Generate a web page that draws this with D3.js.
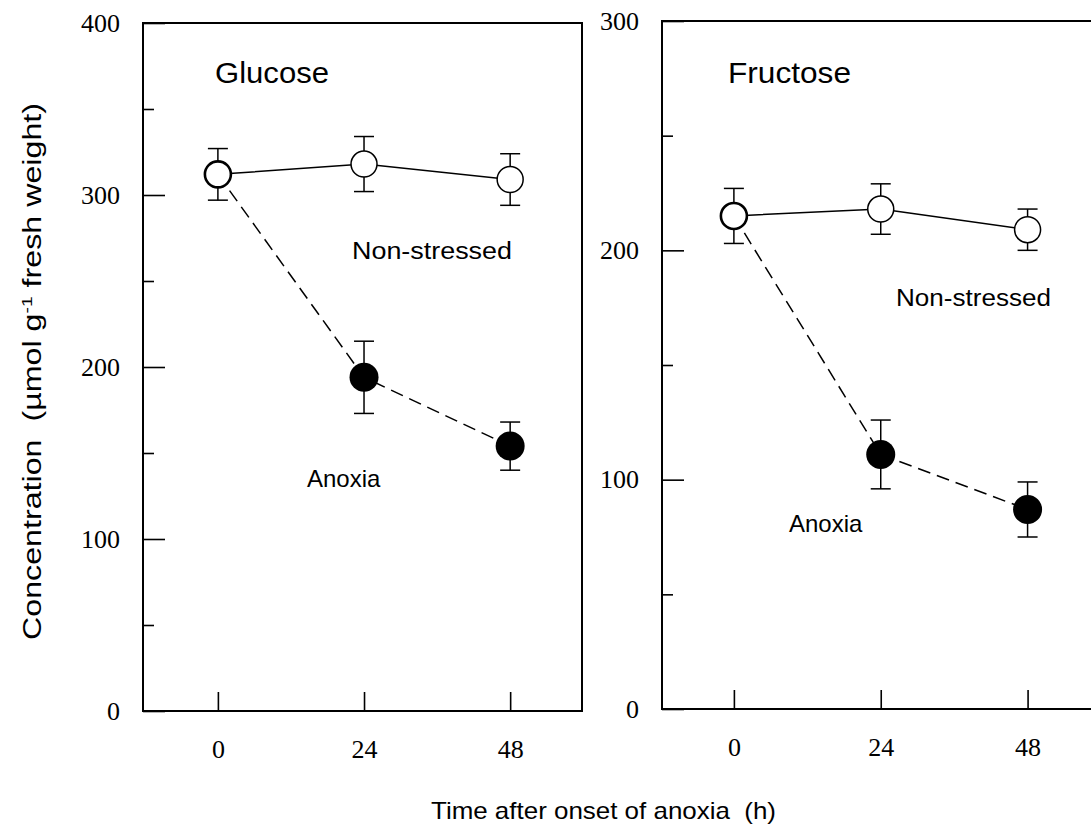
<!DOCTYPE html>
<html>
<head>
<meta charset="utf-8">
<script src="https://cdn.jsdelivr.net/npm/d3@7"></script>
<style>
  body { margin: 0; background: #fff; }
</style>
</head>
<body>
<svg width="1091" height="832"></svg>
<script>
  // Sampling times (h after onset of anoxia)
  const hours = [0, 24, 48];

  // Glucose, umol g-1 fresh weight (mean and error)
  const glucoseControl = [312, 318, 309];
  const glucoseControlErr = [15, 16, 15];
  const glucoseAnoxia = [312, 194, 154];
  const glucoseAnoxiaErr = [15, 21, 14];

  // Fructose
  const fructoseControl = [215, 218, 209];
  const fructoseControlErr = [12, 11, 9];
  const fructoseAnoxia = [215, 111, 87];
  const fructoseAnoxiaErr = [12, 15, 12];

  const glucoseMajor = [0, 100, 200, 300, 400];
  const glucoseMinor = [50, 150, 250, 350];
  const fructoseMajor = [0, 100, 200, 300];
  const fructoseMinor = [50, 150, 250];

  const svg = d3.select('svg');
  const serif = '"Liberation Serif", "Times New Roman", serif';
  const sans = '"Liberation Sans", Arial, sans-serif';

  const pts = (vals, errs) => hours.map((t, i) => ({ t: t, v: vals[i], e: errs[i] }));

  // panel layout
  const panels = [
    { name: 'Glucose', left: 143, top: 23, w: 439, h: 688, xDom: [-12.3, 59.8], yMax: 400,
      major: glucoseMajor, minor: glucoseMinor,
      control: pts(glucoseControl, glucoseControlErr), anoxia: pts(glucoseAnoxia, glucoseAnoxiaErr),
      title: [72, 60, 114], ns: [209, 236, 160], an: [164, 464] },
    { name: 'Fructose', left: 662, top: 21, w: 439, h: 688, xDom: [-11.75, 60], yMax: 300,
      major: fructoseMajor, minor: fructoseMinor,
      control: pts(fructoseControl, fructoseControlErr), anoxia: pts(fructoseAnoxia, fructoseAnoxiaErr),
      title: [66, 62, 123], ns: [234, 285, 155], an: [127, 511] }
  ];

  panels.forEach(function(p) {
    const g = svg.append('g').attr('transform', `translate(${p.left},${p.top})`);
    const x = d3.scaleLinear().domain(p.xDom).range([0, p.w]);
    const y = d3.scaleLinear().domain([0, p.yMax]).range([p.h, 0]);

    // frame
    g.append('rect')
      .attr('width', p.w).attr('height', p.h)
      .attr('fill', 'none').attr('stroke', '#000').attr('stroke-width', 2);

    // y axis, major + minor ticks pointing inward
    const ya = g.append('g')
      .call(d3.axisLeft(y).tickValues(p.major).tickSize(-22).tickPadding(23).tickFormat(d3.format('d')));
    ya.select('.domain').remove();
    g.append('g')
      .call(d3.axisLeft(y).tickValues(p.minor).tickSize(-11).tickFormat(''))
      .select('.domain').remove();

    // x axis
    const xa = g.append('g').attr('transform', `translate(0,${p.h})`)
      .call(d3.axisBottom(x).tickValues(hours).tickSize(-19).tickPadding(29));
    xa.select('.domain').remove();

    g.selectAll('.tick line').attr('stroke', '#000').attr('stroke-width', 1.6);
    g.selectAll('.tick text').attr('font-family', serif).attr('font-size', 26).attr('fill', '#000');

    const line = d3.line().x(d => x(d.t)).y(d => y(d.v));

    g.append('path').datum(p.anoxia).attr('d', line)
      .attr('fill', 'none').attr('stroke', '#000').attr('stroke-width', 1.5)
      .attr('stroke-dasharray', '13,7');
    g.append('path').datum(p.control).attr('d', line)
      .attr('fill', 'none').attr('stroke', '#000').attr('stroke-width', 1.5);

    // error bars
    const bars = p.control.concat(p.anoxia.slice(1));
    const eb = g.append('g').attr('stroke', '#000').attr('stroke-width', 1.5);
    bars.forEach(function(d) {
      eb.append('line').attr('x1', x(d.t)).attr('x2', x(d.t)).attr('y1', y(d.v + d.e)).attr('y2', y(d.v - d.e));
      eb.append('line').attr('x1', x(d.t) - 10).attr('x2', x(d.t) + 10).attr('y1', y(d.v + d.e)).attr('y2', y(d.v + d.e));
      eb.append('line').attr('x1', x(d.t) - 10).attr('x2', x(d.t) + 10).attr('y1', y(d.v - d.e)).attr('y2', y(d.v - d.e));
    });

    // markers
    g.selectAll('circle.an').data(p.anoxia.slice(1)).join('circle')
      .attr('class', 'an')
      .attr('cx', d => x(d.t)).attr('cy', d => y(d.v)).attr('r', 14.5)
      .attr('fill', '#000');
    g.selectAll('circle.ns').data(p.control).join('circle')
      .attr('class', 'ns')
      .attr('cx', d => x(d.t)).attr('cy', d => y(d.v)).attr('r', 13)
      .attr('fill', '#fff').attr('stroke', '#000')
      .attr('stroke-width', d => d.t === 0 ? 2.6 : 1.5);

    // labels inside the panel
    g.append('text').attr('x', p.title[0]).attr('y', p.title[1])
      .attr('font-family', sans).attr('font-size', 29)
      .attr('textLength', p.title[2]).attr('lengthAdjust', 'spacingAndGlyphs')
      .text(p.name);
    g.append('text').attr('x', p.ns[0]).attr('y', p.ns[1])
      .attr('font-family', sans).attr('font-size', 23)
      .attr('textLength', p.ns[2]).attr('lengthAdjust', 'spacingAndGlyphs')
      .text('Non-stressed');
    g.append('text').attr('x', p.an[0]).attr('y', p.an[1])
      .attr('font-family', sans).attr('font-size', 24)
      .text('Anoxia');
  });

  // axis titles
  svg.append('text')
    .attr('x', 431).attr('y', 819)
    .attr('font-family', sans).attr('font-size', 24)
    .attr('textLength', 345).attr('lengthAdjust', 'spacingAndGlyphs')
    .attr('xml:space', 'preserve')
    .text('Time after onset of anoxia  (h)');

  const yt = svg.append('text')
    .attr('transform', 'translate(41,640) rotate(-90)')
    .attr('font-family', sans).attr('font-size', 25)
    .attr('textLength', 537).attr('lengthAdjust', 'spacingAndGlyphs')
    .attr('xml:space', 'preserve');
  yt.append('tspan').text('Concentration  (µmol g');
  yt.append('tspan').attr('dy', -9).attr('font-size', 15).text('-1');
  yt.append('tspan').attr('dy', 9).text(' fresh weight)');
</script>
</body>
</html>
